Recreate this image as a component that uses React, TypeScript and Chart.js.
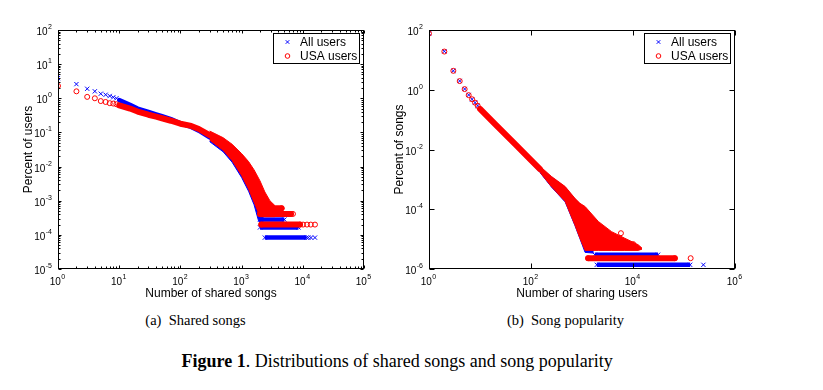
import React, { useEffect, useRef } from "react";
import { Chart, registerables } from "chart.js";

Chart.register(...registerables);

const RED = "rgb(255,0,0)";
const BLUE = "rgb(0,0,255)";
const SANS = '"Liberation Sans", Arial, Helvetica, sans-serif';
const SERIF = '"Liberation Serif", "Times New Roman", serif';

// ---------- (a) Shared songs ----------
const SHARED_SONGS_PTS = [1, 2, 3, 4, 5, 6, 7, 8, 9];
const ALL_USERS_PTS = [3.9, 2.6, 1.9, 1.6, 1.36, 1.27, 1.17, 1.07, 1.0];
const USA_USERS_PTS = [2.3, 1.6, 1.1, 1.0, 0.83, 0.78, 0.72, 0.7, 0.67];

const SHARED_SONGS_CURVE = [10, 15, 20, 30, 40, 50, 70, 100, 150, 200, 300];
const ALL_USERS_CURVE = [0.88, 0.64, 0.5, 0.4, 0.34, 0.3, 0.245, 0.185, 0.145, 0.113, 0.072];
const USA_USERS_CURVE = [0.62, 0.5, 0.41, 0.33, 0.29, 0.26, 0.22, 0.18, 0.155, 0.126, 0.084];

const USA_USERS_CLOUD_X = [300, 500, 700, 1000, 1300, 1600, 2000, 2400, 2900, 3500];
const USA_USERS_CLOUD_HI = [0.11, 0.07, 0.045, 0.024, 0.014, 0.008, 0.0038, 0.0018, 0.001, 0.00072];
const USA_USERS_CLOUD_LO = [0.06, 0.03, 0.015, 0.0055, 0.0022, 0.0009, 0.00034, 0.00034, 0.00034, 0.00034];
const ALL_USERS_CLOUD_X = [300, 500, 700, 1000, 1300, 1600, 1900, 2300];
const ALL_USERS_CLOUD_HI = [0.1, 0.065, 0.04, 0.02, 0.011, 0.006, 0.003, 0.001];
const ALL_USERS_CLOUD_LO = [0.054, 0.027, 0.0134, 0.0048, 0.0019, 0.00076, 0.00025, 0.00022];

const USA_USERS_BAND_LEVEL = [6.0e-4, 4.1e-4, 2.0e-4];
const USA_USERS_BAND_FROM = [2100, 2000, 2100];
const USA_USERS_BAND_TO = [4500, 6400, 9000];
const USA_USERS_TAIL_X = [6900, 10100, 11700, 13500, 15800];
const USA_USERS_TAIL_Y = [4.1e-4, 2.0e-4, 2.0e-4, 2.0e-4, 2.0e-4];
const ALL_USERS_BAND_LEVEL = [2.8e-4, 1.65e-4, 8.3e-5];
const ALL_USERS_BAND_FROM = [2000, 2000, 2400];
const ALL_USERS_BAND_TO = [5000, 8500, 11500];
const ALL_USERS_TAIL_X = [12300, 13600, 15800];
const ALL_USERS_TAIL_Y = [8.3e-5, 8.3e-5, 8.3e-5];

const SHARED_X_EXPONENTS = [0, 1, 2, 3, 4, 5];
const USERS_Y_EXPONENTS = [-5, -4, -3, -2, -1, 0, 1, 2];

// ---------- (b) Song popularity ----------
const SHARING_USERS_PTS = [1, 2, 3, 4, 5, 6, 7, 8, 9];
const ALL_SONGS_PTS = [77, 19.4, 4.3, 1.97, 1.06, 0.67, 0.48, 0.37, 0.29];
const USA_SONGS_PTS = [76, 19.0, 4.3, 1.95, 1.05, 0.66, 0.48, 0.37, 0.29];

const SHARING_USERS_CURVE = [10, 20, 50, 100, 150];
const ALL_SONGS_CURVE = [0.23, 0.068, 0.0142, 0.0043, 0.0021];
const USA_SONGS_CURVE = [0.23, 0.069, 0.0145, 0.0044, 0.0022];

const USA_SONGS_CLOUD_X = [150, 251, 468, 724, 912, 1150, 2090, 3800, 6900, 12600, 15000];
const USA_SONGS_CLOUD_HI = [2.75e-3, 1.26e-3, 5.75e-4, 2.34e-4, 1.58e-4, 1.23e-4, 3.9e-5, 1.78e-5, 1.07e-5, 6.5e-6, 5.0e-6];
const USA_SONGS_CLOUD_LO = [1.74e-3, 5.75e-4, 1.82e-4, 3.0e-5, 1.07e-5, 4.2e-6, 4.2e-6, 4.2e-6, 4.2e-6, 4.2e-6, 4.6e-6];
const ALL_SONGS_CLOUD_X = [150, 251, 468, 724, 912, 1150, 1700];
const ALL_SONGS_CLOUD_HI = [2.5e-3, 1.2e-3, 5.5e-4, 2.2e-4, 1.5e-4, 1.1e-4, 5e-5];
const ALL_SONGS_CLOUD_LO = [1.7e-3, 5.6e-4, 1.76e-4, 2.9e-5, 1.03e-5, 3.6e-6, 3.4e-6];

const USA_SONGS_BAND_LEVEL = [2.3e-6];
const USA_SONGS_BAND_FROM = [1320];
const USA_SONGS_BAND_TO = [66000];
const USA_SONGS_TAIL_X = [135000, 5800, 10100];
const USA_SONGS_TAIL_Y = [2.3e-6, 1.58e-5, 6.8e-6];
const ALL_SONGS_BAND_LEVEL = [3.0e-6, 1.38e-6];
const ALL_SONGS_BAND_FROM = [1780, 1950];
const ALL_SONGS_BAND_TO = [31000, 132000];
const ALL_SONGS_TAIL_X = [240000];
const ALL_SONGS_TAIL_Y = [1.38e-6];

const SHARING_X_EXPONENTS = [0, 2, 4, 6];
const SONGS_Y_EXPONENTS = [-6, -4, -2, 0, 2];

const LEGEND_LABELS = ["All users", "USA users"];

interface SeriesData {
  ptsX: number[]; ptsY: number[];
  curveX: number[]; curveY: number[];
  cloudX: number[]; cloudHi: number[]; cloudLo: number[];
  bandLevel: number[]; bandFrom: number[]; bandTo: number[];
  tailX: number[]; tailY: number[];
}

function xy(xs: number[], ys: number[]) {
  return xs.map((x, i) => ({ x, y: ys[i] }));
}

function seriesDatasets(s: SeriesData, color: string, cross: boolean, order: number, base: number) {
  const marker = cross
    ? { pointStyle: "crossRot", pointRadius: 3, pointBorderWidth: 1, pointBorderColor: color, pointBackgroundColor: color }
    : { pointStyle: "circle", pointRadius: 2.5, pointBorderWidth: 1, pointBorderColor: color, pointBackgroundColor: "rgba(0,0,0,0)" };
  const thick = cross ? 4.5 : 6;
  const ds: any[] = [];
  ds.push({ data: xy(s.ptsX, s.ptsY), showLine: false, ...marker, order });
  ds.push({
    data: xy(s.curveX, s.curveY), showLine: true, borderColor: color, borderWidth: thick,
    borderCapStyle: "round", borderJoinStyle: "round", pointRadius: 0, order,
  });
  const hiIndex = base + ds.length;
  ds.push({ data: xy(s.cloudX, s.cloudHi), showLine: true, borderColor: color, borderWidth: 1, pointRadius: 0, fill: false, order });
  ds.push({
    data: xy(s.cloudX, s.cloudLo), showLine: true, borderColor: color, borderWidth: 1, pointRadius: 0,
    fill: hiIndex, backgroundColor: color, order,
  });
  s.bandLevel.forEach((lv, i) => {
    ds.push({
      data: [{ x: s.bandFrom[i], y: lv }, { x: s.bandTo[i], y: lv }], showLine: true,
      borderColor: color, borderWidth: thick, borderCapStyle: cross ? "butt" : "round", ...marker, order,
    });
  });
  ds.push({ data: xy(s.tailX, s.tailY), showLine: false, ...marker, order });
  return ds;
}

interface AxisCfg {
  xMin: number; xMax: number; yMin: number; yMax: number;
  xExps: number[]; yExps: number[];
  minor: boolean; tickLen: number;
  xTitle: string; yTitle: string;
  yAxisWidth: number; padRight: number;
}

function decoPlugin(cfg: AxisCfg) {
  return {
    id: "deco",
    afterDraw(chart: any) {
      const { ctx, chartArea: a } = chart;
      const xs = chart.scales.x;
      const ys = chart.scales.y;
      ctx.save();
      ctx.strokeStyle = "#000";
      ctx.fillStyle = "#000";
      ctx.lineWidth = 1;
      const L = Math.round(a.left) + 0.5;
      const R = Math.round(a.right) - 0.5;
      const T = Math.round(a.top) + 0.5;
      const B = Math.round(a.bottom) - 0.5;
      const seg = (x1: number, y1: number, x2: number, y2: number) => {
        ctx.beginPath(); ctx.moveTo(x1, y1); ctx.lineTo(x2, y2); ctx.stroke();
      };
      const xTick = (v: number, len: number) => {
        const p = Math.round(xs.getPixelForValue(v)) + 0.5;
        seg(p, B, p, B - len); seg(p, T, p, T + len);
      };
      const yTick = (v: number, len: number) => {
        const p = Math.round(ys.getPixelForValue(v)) + 0.5;
        seg(L, p, L + len, p); seg(R, p, R - len, p);
      };
      cfg.xExps.forEach((e) => xTick(Math.pow(10, e), cfg.tickLen));
      cfg.yExps.forEach((e) => yTick(Math.pow(10, e), cfg.tickLen));
      if (cfg.minor) {
        for (let k = Math.log10(cfg.xMin); k < Math.log10(cfg.xMax); k++)
          for (let m = 2; m <= 9; m++) xTick(m * Math.pow(10, k), 2);
        for (let k = Math.log10(cfg.yMin); k < Math.log10(cfg.yMax); k++)
          for (let m = 2; m <= 9; m++) yTick(m * Math.pow(10, k), 2);
      }
      ctx.strokeRect(L, T, R - L, B - T);

      const drawPow = (exp: number, x: number, baseline: number, center: boolean) => {
        ctx.font = `10px ${SANS}`;
        const w1 = ctx.measureText("10").width;
        const es = exp < 0 ? "-" + -exp : String(exp);
        ctx.font = `7px ${SANS}`;
        const w2 = ctx.measureText(es).width;
        const total = w1 + 0.5 + w2;
        const x0 = center ? x - total / 2 : x - total;
        ctx.textAlign = "left";
        ctx.textBaseline = "alphabetic";
        ctx.font = `10px ${SANS}`;
        ctx.fillText("10", x0, baseline);
        ctx.font = `7px ${SANS}`;
        ctx.fillText(es, x0 + w1 + 0.5, baseline - 6);
      };
      cfg.xExps.forEach((e) => drawPow(e, xs.getPixelForValue(Math.pow(10, e)) - 0.5, a.bottom + 16, true));
      cfg.yExps.forEach((e) => drawPow(e, a.left - 6, ys.getPixelForValue(Math.pow(10, e)) + 5, false));

      ctx.font = `12px ${SANS}`;
      ctx.textAlign = "center";
      ctx.textBaseline = "alphabetic";
      ctx.fillText(cfg.xTitle, (a.left + a.right) / 2, a.bottom + 28);
      ctx.save();
      ctx.translate(a.left - 26.5, (a.top + a.bottom) / 2);
      ctx.rotate(-Math.PI / 2);
      ctx.fillText(cfg.yTitle, 0, 0);
      ctx.restore();

      // legend
      const bx = Math.round(a.right) - 91;
      const by = Math.round(a.top) + 3;
      ctx.fillStyle = "#fff";
      ctx.fillRect(bx, by, 87, 30);
      ctx.strokeStyle = "#000";
      ctx.strokeRect(bx + 0.5, by + 0.5, 86, 30);
      const mx = bx + 14.5;
      ctx.strokeStyle = BLUE;
      const cy = by + 9;
      seg(mx - 1.8, cy - 1.8, mx + 1.8, cy + 1.8);
      seg(mx - 1.8, cy + 1.8, mx + 1.8, cy - 1.8);
      ctx.strokeStyle = RED;
      ctx.beginPath();
      ctx.arc(mx, by + 23, 2.3, 0, Math.PI * 2);
      ctx.stroke();
      ctx.fillStyle = "#000";
      ctx.font = `12px ${SANS}`;
      ctx.textAlign = "left";
      ctx.fillText(LEGEND_LABELS[0], bx + 27, by + 13);
      ctx.fillText(LEGEND_LABELS[1], bx + 27, by + 27);
      ctx.restore();
    },
  };
}

function LogScatter(props: { all: SeriesData; usa: SeriesData; cfg: AxisCfg; width: number; height: number; left: number }) {
  const ref = useRef<HTMLCanvasElement | null>(null);
  useEffect(() => {
    if (!ref.current) return;
    const { all, usa, cfg } = props;
    const blue = seriesDatasets(all, BLUE, true, 1, 0);
    const red = seriesDatasets(usa, RED, false, 0, blue.length);
    const chart = new Chart(ref.current, {
      type: "line",
      data: { datasets: [...blue, ...red] as any },
      options: {
        responsive: false,
        animation: false,
        events: [],
        layout: { padding: { left: 0, top: 30, right: cfg.padRight, bottom: 0 } },
        elements: { line: { tension: 0 } },
        plugins: { legend: { display: false }, tooltip: { enabled: false } },
        scales: {
          x: {
            type: "logarithmic", min: cfg.xMin, max: cfg.xMax,
            ticks: { display: false }, grid: { display: false }, border: { display: false },
            afterFit: (s: any) => { s.height = 41; },
          },
          y: {
            type: "logarithmic", min: cfg.yMin, max: cfg.yMax,
            ticks: { display: false }, grid: { display: false }, border: { display: false },
            afterFit: (s: any) => { s.width = cfg.yAxisWidth; },
          },
        },
      } as any,
      plugins: [decoPlugin(cfg)],
    });
    return () => chart.destroy();
  }, []);
  return (
    <canvas
      ref={ref}
      width={props.width}
      height={props.height}
      style={{ position: "absolute", left: props.left, top: 0, width: props.width, height: props.height }}
    />
  );
}

const leftAll: SeriesData = {
  ptsX: SHARED_SONGS_PTS, ptsY: ALL_USERS_PTS,
  curveX: SHARED_SONGS_CURVE, curveY: ALL_USERS_CURVE,
  cloudX: ALL_USERS_CLOUD_X, cloudHi: ALL_USERS_CLOUD_HI, cloudLo: ALL_USERS_CLOUD_LO,
  bandLevel: ALL_USERS_BAND_LEVEL, bandFrom: ALL_USERS_BAND_FROM, bandTo: ALL_USERS_BAND_TO,
  tailX: ALL_USERS_TAIL_X, tailY: ALL_USERS_TAIL_Y,
};
const leftUsa: SeriesData = {
  ptsX: SHARED_SONGS_PTS, ptsY: USA_USERS_PTS,
  curveX: SHARED_SONGS_CURVE, curveY: USA_USERS_CURVE,
  cloudX: USA_USERS_CLOUD_X, cloudHi: USA_USERS_CLOUD_HI, cloudLo: USA_USERS_CLOUD_LO,
  bandLevel: USA_USERS_BAND_LEVEL, bandFrom: USA_USERS_BAND_FROM, bandTo: USA_USERS_BAND_TO,
  tailX: USA_USERS_TAIL_X, tailY: USA_USERS_TAIL_Y,
};
const rightAll: SeriesData = {
  ptsX: SHARING_USERS_PTS, ptsY: ALL_SONGS_PTS,
  curveX: SHARING_USERS_CURVE, curveY: ALL_SONGS_CURVE,
  cloudX: ALL_SONGS_CLOUD_X, cloudHi: ALL_SONGS_CLOUD_HI, cloudLo: ALL_SONGS_CLOUD_LO,
  bandLevel: ALL_SONGS_BAND_LEVEL, bandFrom: ALL_SONGS_BAND_FROM, bandTo: ALL_SONGS_BAND_TO,
  tailX: ALL_SONGS_TAIL_X, tailY: ALL_SONGS_TAIL_Y,
};
const rightUsa: SeriesData = {
  ptsX: SHARING_USERS_PTS, ptsY: USA_SONGS_PTS,
  curveX: SHARING_USERS_CURVE, curveY: USA_SONGS_CURVE,
  cloudX: USA_SONGS_CLOUD_X, cloudHi: USA_SONGS_CLOUD_HI, cloudLo: USA_SONGS_CLOUD_LO,
  bandLevel: USA_SONGS_BAND_LEVEL, bandFrom: USA_SONGS_BAND_FROM, bandTo: USA_SONGS_BAND_TO,
  tailX: USA_SONGS_TAIL_X, tailY: USA_SONGS_TAIL_Y,
};

const leftCfg: AxisCfg = {
  xMin: 1, xMax: 1e5, yMin: 1e-5, yMax: 1e2,
  xExps: SHARED_X_EXPONENTS, yExps: USERS_Y_EXPONENTS,
  minor: true, tickLen: 3,
  xTitle: "Number of shared songs", yTitle: "Percent of users",
  yAxisWidth: 58, padRight: 16,
};
const rightCfg: AxisCfg = {
  xMin: 1, xMax: 1e6, yMin: 1e-6, yMax: 1e2,
  xExps: SHARING_X_EXPONENTS, yExps: SONGS_Y_EXPONENTS,
  minor: false, tickLen: 5,
  xTitle: "Number of sharing users", yTitle: "Percent of songs",
  yAxisWidth: 49, padRight: 88,
};

export default function App() {
  const caption: React.CSSProperties = {
    position: "absolute", fontFamily: SERIF, color: "#000", whiteSpace: "pre",
    textAlign: "center", width: 400, lineHeight: 1,
  };
  return (
    <div style={{ position: "fixed", left: 0, top: 0, width: 823, height: 390, background: "#fff", overflow: "hidden" }}>
      <LogScatter all={leftAll} usa={leftUsa} cfg={leftCfg} width={380} height={310} left={0} />
      <LogScatter all={rightAll} usa={rightUsa} cfg={rightCfg} width={443} height={310} left={380} />
      <div style={{ ...caption, left: 195.5 - 200, top: 313, fontSize: 14.5 }}>{"(a)  Shared songs"}</div>
      <div style={{ ...caption, left: 565.5 - 200, top: 313, fontSize: 14.5 }}>{"(b)  Song popularity"}</div>
      <div style={{ ...caption, left: 381.5 - 200, top: 351.5, fontSize: 18 }}>
        <b>Figure 1</b>. Distributions of shared songs and song popularity
      </div>
    </div>
  );
}
